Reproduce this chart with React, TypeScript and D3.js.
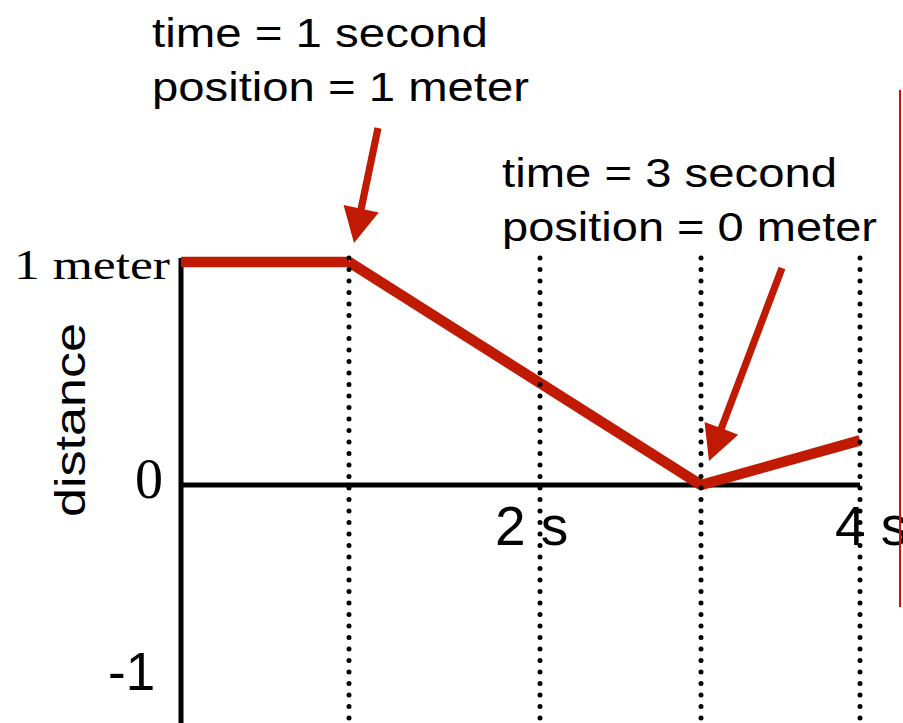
import React from "react";
import * as d3 from "d3";

// Position–time data of the moving object
const times = [0, 1, 3, 4];
const positions = [1, 1, 0, 0.2];

// Vertical dotted guides and axis labelling
const gridTimes = [1, 2, 3, 4];
const xTickTimes = [2, 4];
const xTickLabels = ["2 s", "4 s"];
const yTickValues = [1, 0, -1];
const yTickLabels = ["1 meter", "0", "-1"];

// Callouts: the time/position they point at and their two text lines
const calloutTimes = [1, 3];
const calloutPositions = [1, 0];
const calloutLines = [
  ["time = 1 second", "position = 1 meter"],
  ["time = 3 second", "position = 0 meter"],
];

const W = 903;
const H = 723;
const RED = "#c01a02";
const SANS = "'Liberation Sans', Arial, Helvetica, sans-serif";
const SERIF = "'Liberation Serif', 'Times New Roman', serif";

// Hand-spaced time axis (piecewise-linear scale)
const x = d3.scaleLinear().domain([0, 1, 2, 3, 4]).range([181, 349, 540, 701, 860]);
const y = d3.scaleLinear().domain([-1, 1]).range([708, 262]);

// Layout offsets for labels / callouts
const xTickDx = [-45, -25];
const xTickBaseline = 545;
const calloutText = [
  { x: 152, y: 47, len: [336, 377] },
  { x: 502, y: 187, len: [335, 375] },
];
const calloutTip = [
  { tip: [5, -19], tail: [29, -134] },
  { tip: [8, -24], tail: [81, -217] },
];

function arrowPath(tail: number[], tip: number[]) {
  const dx = tip[0] - tail[0];
  const dy = tip[1] - tail[1];
  const len = Math.hypot(dx, dy);
  const ux = dx / len;
  const uy = dy / len;
  const nx = -uy;
  const ny = ux;
  const headLen = 35;
  const headW = 18;
  const shaftW = 3.6;
  const bx = tip[0] - ux * headLen;
  const by = tip[1] - uy * headLen;
  const p = d3.path();
  p.moveTo(tail[0] + nx * shaftW, tail[1] + ny * shaftW);
  p.lineTo(bx + nx * shaftW, by + ny * shaftW);
  p.lineTo(bx + nx * headW, by + ny * headW);
  p.lineTo(tip[0], tip[1]);
  p.lineTo(bx - nx * headW, by - ny * headW);
  p.lineTo(bx - nx * shaftW, by - ny * shaftW);
  p.lineTo(tail[0] - nx * shaftW, tail[1] - ny * shaftW);
  p.closePath();
  return p.toString();
}

export default function App() {
  const pts: [number, number][] = times.map((t, i) => [x(t), y(positions[i])]);
  const segLine = d3.line<[number, number]>();
  const segments = pts.slice(1).map((p, i) => segLine([pts[i], p]) as string);

  const yTop = y(1) - 4;

  return (
    <svg
      width={W}
      height={H}
      style={{ position: "absolute", left: 0, top: 0, background: "#fff" }}
    >
      {/* axes */}
      <line x1={x(0)} x2={x(0)} y1={yTop} y2={H} stroke="#000" strokeWidth={5} />
      <line x1={x(0)} x2={x(4)} y1={y(0)} y2={y(0)} stroke="#000" strokeWidth={5} />

      {/* motion graph */}
      {segments.map((d, i) => (
        <path key={i} d={d} fill="none" stroke={RED} strokeWidth={10.5} strokeLinecap="butt" />
      ))}

      {/* dotted time guides */}
      {gridTimes.map((t) => (
        <line
          key={t}
          x1={x(t)}
          x2={x(t)}
          y1={yTop}
          y2={H + 5}
          stroke="#000"
          strokeWidth={5}
          strokeLinecap="round"
          strokeDasharray="0 11.5"
        />
      ))}

      {/* y labels */}
      <text
        x={14}
        y={y(yTickValues[0]) + 17}
        fontFamily={SERIF}
        fontSize={42}
        textLength={156}
        lengthAdjust="spacingAndGlyphs"
      >
        {yTickLabels[0]}
      </text>
      <text x={163} y={y(yTickValues[1]) + 13} fontFamily={SERIF} fontSize={56} textAnchor="end">
        {yTickLabels[1]}
      </text>
      <text x={108} y={y(yTickValues[2]) - 18} fontFamily={SANS} fontSize={53}>
        {yTickLabels[2]}
      </text>

      {/* axis title */}
      <text
        transform={`translate(85,${(y(1) + y(-1)) / 2 - 65}) rotate(-90)`}
        textAnchor="middle"
        fontFamily={SANS}
        fontSize={42}
        textLength={194}
        lengthAdjust="spacingAndGlyphs"
      >
        distance
      </text>

      {/* x tick labels */}
      {xTickTimes.map((t, i) => (
        <text key={t} x={x(t) + xTickDx[i]} y={xTickBaseline} fontFamily={SANS} fontSize={55}>
          {xTickLabels[i]}
        </text>
      ))}

      {/* callouts */}
      {calloutLines.map((lines, i) => (
        <g key={i}>
          {lines.map((s, j) => (
            <text
              key={j}
              x={calloutText[i].x}
              y={calloutText[i].y + j * 54}
              fontFamily={SANS}
              fontSize={41}
              textLength={calloutText[i].len[j]}
              lengthAdjust="spacingAndGlyphs"
            >
              {s}
            </text>
          ))}
          <path
            d={arrowPath(
              [x(calloutTimes[i]) + calloutTip[i].tail[0], y(calloutPositions[i]) + calloutTip[i].tail[1]],
              [x(calloutTimes[i]) + calloutTip[i].tip[0], y(calloutPositions[i]) + calloutTip[i].tip[1]]
            )}
            fill={RED}
          />
        </g>
      ))}

      {/* slide edge rule */}
      <line x1={900} x2={900} y1={90} y2={607} stroke={RED} strokeWidth={2} />
    </svg>
  );
}
